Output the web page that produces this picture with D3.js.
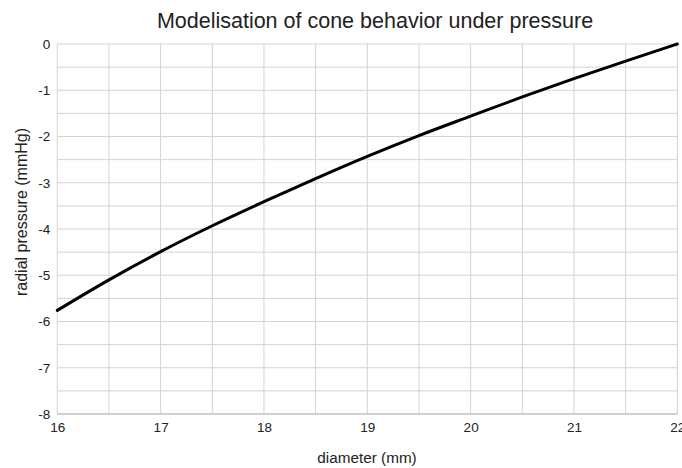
<!DOCTYPE html>
<html><head><meta charset="utf-8">
<script src="https://cdn.jsdelivr.net/npm/d3@7"></script>
<style>body{margin:0;background:#fff;} text{font-family:"Liberation Sans",Arial,sans-serif;fill:#222;}</style>
</head><body>
<svg id="c" width="682" height="468"></svg>
<script>
const title = "Modelisation of cone behavior under pressure";
const xLabel = "diameter (mm)";
const yLabel = "radial pressure (mmHg)";
const diameters = [16, 16.5, 17, 17.5, 18, 18.5, 19, 19.5, 20, 20.5, 21, 21.5, 22];
const pressures = [-5.76, -5.10, -4.49, -3.93, -3.41, -2.91, -2.43, -1.98, -1.56, -1.145, -0.75, -0.37, 0];
const xTicks = [16, 17, 18, 19, 20, 21, 22];
const yTicks = [0, -1, -2, -3, -4, -5, -6, -7, -8];
const xGrid = d3.range(16, 22.01, 0.5);
const yGrid = d3.range(-8, 0.01, 0.5);

const svg = d3.select("#c");
const x = d3.scaleLinear().domain([16, 22]).range([57.3, 677.3]);
const y = d3.scaleLinear().domain([-8, 0]).range([414, 44]);

const g = svg.append("g");
g.selectAll(".vg").data(xGrid).join("line")
  .attr("x1", d => x(d)).attr("x2", d => x(d)).attr("y1", y(0)).attr("y2", y(-8))
  .attr("stroke", "#d3d3d3").attr("stroke-width", 1);
g.selectAll(".hg").data(yGrid).join("line")
  .attr("x1", x(16)).attr("x2", x(22)).attr("y1", d => y(d)).attr("y2", d => y(d))
  .attr("stroke", "#d3d3d3").attr("stroke-width", 1);
g.append("line").attr("x1", x(16)).attr("x2", x(22)).attr("y1", y(-8)).attr("y2", y(-8))
  .attr("stroke", "#d0d0d0").attr("stroke-width", 2);

const tickFont = "13.5px";
const xAxis = svg.append("g").attr("transform", `translate(0,${y(-8)})`)
  .call(d3.axisBottom(x).tickValues(xTicks).tickSize(0).tickPadding(8).tickFormat(d3.format("d")));
xAxis.select(".domain").remove();
xAxis.selectAll("text").style("font-size", tickFont).attr("fill", "#222").style("font-family", "Liberation Sans, Arial, sans-serif");

const yAxis = svg.append("g").attr("transform", `translate(${x(16)},0)`)
  .call(d3.axisLeft(y).tickValues(yTicks).tickSize(0).tickPadding(7).tickFormat(d3.format("d")));
yAxis.select(".domain").remove();
yAxis.selectAll("text").style("font-size", tickFont).attr("fill", "#222").style("font-family", "Liberation Sans, Arial, sans-serif")
  .text(d => String(d));

const line = d3.line().x((d, i) => x(diameters[i])).y(d => y(d)).curve(d3.curveMonotoneX);
svg.append("path").datum(pressures).attr("d", line)
  .attr("fill", "none").attr("stroke", "#000").attr("stroke-width", 3).attr("stroke-linecap", "round");

svg.append("text").attr("x", 375).attr("y", 28).attr("text-anchor", "middle")
  .style("font-size", "21.5px").text(title);
svg.append("text").attr("x", 367).attr("y", 463).attr("text-anchor", "middle")
  .style("font-size", "15.3px").text(xLabel);
svg.append("text").attr("transform", `translate(27,212) rotate(-90)`).attr("text-anchor", "middle")
  .style("font-size", "16px").text(yLabel);
</script>
</body></html>
